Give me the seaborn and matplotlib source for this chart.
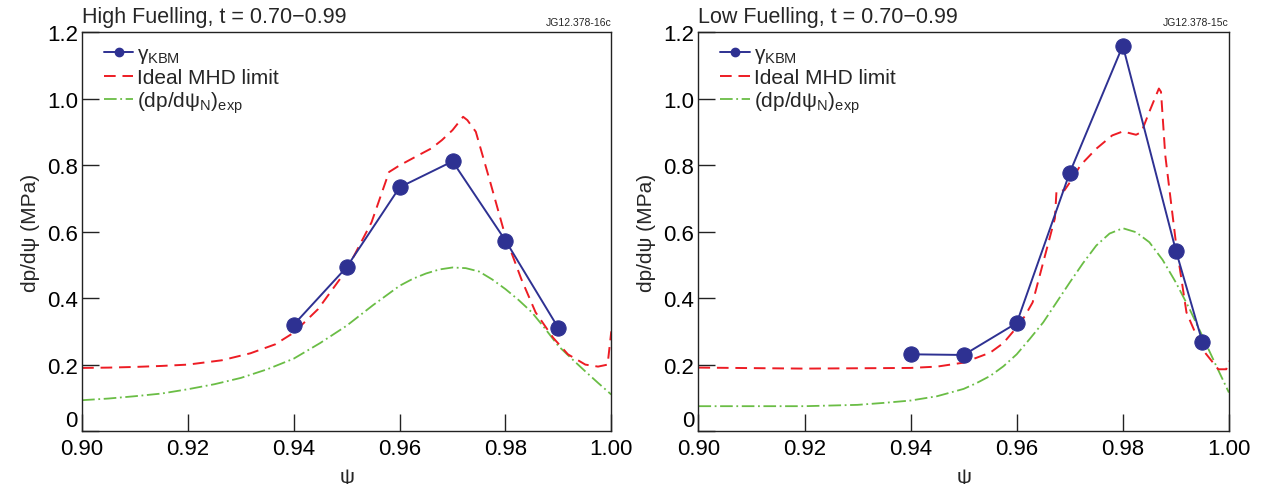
import numpy as np
import pandas as pd
import seaborn as sns
import matplotlib.pyplot as plt
from matplotlib.lines import Line2D

# ---- high fuelling ----
hi_kbm_psi = [0.94, 0.95, 0.96, 0.97, 0.98, 0.99]
hi_kbm_dp = [0.32, 0.493, 0.733, 0.811, 0.573, 0.31]

hi_mhd_psi = [0.900, 0.905, 0.910, 0.915, 0.920, 0.9264, 0.9318, 0.9365, 0.940, 0.9446,
              0.950, 0.9547, 0.958, 0.960, 0.9635, 0.966, 0.968, 0.970, 0.9715, 0.972,
              0.9728, 0.9744, 0.9771, 0.980, 0.983, 0.9857, 0.989, 0.9918, 0.9951, 0.9975,
              0.9993, 1.000]
hi_mhd_dp = [0.19, 0.191, 0.193, 0.196, 0.20, 0.213, 0.234, 0.261, 0.296, 0.367,
             0.485, 0.628, 0.779, 0.799, 0.829, 0.85, 0.875, 0.905, 0.935, 0.945,
             0.935, 0.90, 0.75, 0.585, 0.457, 0.357, 0.281, 0.231, 0.20, 0.194,
             0.20, 0.30]

hi_exp_psi = [0.900, 0.905, 0.910, 0.915, 0.920, 0.925, 0.930, 0.935, 0.940, 0.945,
              0.950, 0.955, 0.960, 0.9625, 0.965, 0.9675, 0.970, 0.9725, 0.975, 0.9775,
              0.980, 0.9825, 0.985, 0.9875, 0.990, 0.9925, 0.995, 0.9975, 1.000]
hi_exp_dp = [0.093, 0.098, 0.105, 0.113, 0.126, 0.141, 0.160, 0.186, 0.218, 0.265,
             0.317, 0.379, 0.437, 0.458, 0.474, 0.486, 0.492, 0.490, 0.480, 0.456,
             0.427, 0.394, 0.357, 0.308, 0.256, 0.218, 0.181, 0.145, 0.11]

# ---- low fuelling ----
lo_kbm_psi = [0.94, 0.95, 0.96, 0.97, 0.98, 0.99, 0.995]
lo_kbm_dp = [0.231, 0.229, 0.325, 0.777, 1.159, 0.543, 0.268]

lo_mhd_psi = [0.900, 0.920, 0.940, 0.945, 0.950, 0.955, 0.9575, 0.960, 0.9615, 0.963,
              0.966, 0.9672, 0.9675, 0.969, 0.9705, 0.972, 0.975, 0.978, 0.980, 0.9825,
              0.9835, 0.985, 0.9868, 0.9872, 0.988, 0.990, 0.992, 0.995, 0.998, 0.9995,
              1.000]
lo_mhd_dp = [0.191, 0.188, 0.19, 0.194, 0.206, 0.236, 0.265, 0.312, 0.345, 0.387,
             0.568, 0.64, 0.722, 0.724, 0.759, 0.799, 0.849, 0.889, 0.901, 0.891,
             0.899, 0.96, 1.03, 1.02, 0.83, 0.568, 0.357, 0.246, 0.186, 0.186,
             0.211]

lo_exp_psi = [0.900, 0.910, 0.920, 0.930, 0.935, 0.940, 0.945, 0.950, 0.9525, 0.955,
              0.9575, 0.960, 0.9625, 0.965, 0.9675, 0.970, 0.9725, 0.975, 0.9775, 0.980,
              0.9825, 0.985, 0.9875, 0.990, 0.9925, 0.995, 0.9975, 1.000]
lo_exp_dp = [0.075, 0.075, 0.075, 0.079, 0.085, 0.092, 0.105, 0.127, 0.145, 0.166,
             0.195, 0.231, 0.278, 0.327, 0.387, 0.447, 0.505, 0.558, 0.594, 0.61,
             0.598, 0.568, 0.515, 0.447, 0.37, 0.286, 0.2, 0.116]

xticks = [0.90, 0.92, 0.94, 0.96, 0.98, 1.00]
yticks = [0, 0.2, 0.4, 0.6, 0.8, 1.0, 1.2]
ytick_labels = ['0', '0.2', '0.4', '0.6', '0.8', '1.0', '1.2']

blue = '#2e3192'
red = '#ed1c24'
green = '#6abd45'

sns.set_style("ticks")
plt.rcParams['font.family'] = ['Liberation Sans', 'DejaVu Sans']
plt.rcParams['mathtext.fontset'] = 'custom'
plt.rcParams['mathtext.rm'] = 'Liberation Sans'
plt.rcParams['mathtext.it'] = 'Liberation Sans'

fig = plt.figure(figsize=(12.63, 4.85), dpi=100)
ax1 = fig.add_axes([0.065, 0.109, 0.419, 0.823])
ax2 = fig.add_axes([0.553, 0.109, 0.420, 0.823])

panels = [
    (ax1, hi_kbm_psi, hi_kbm_dp, hi_mhd_psi, hi_mhd_dp, hi_exp_psi, hi_exp_dp,
     'High Fuelling, t = 0.70\u22120.99', 'JG12.378-16c'),
    (ax2, lo_kbm_psi, lo_kbm_dp, lo_mhd_psi, lo_mhd_dp, lo_exp_psi, lo_exp_dp,
     'Low Fuelling, t = 0.70\u22120.99', 'JG12.378-15c'),
]

mhd_ls = (0, (6, 3.5))
exp_ls = (0, (7, 2, 1, 2))

for ax, kx, ky, mx, my, ex, ey, title, code in panels:
    sns.lineplot(x=ex, y=ey, ax=ax, color=green, lw=1.3, sort=False, linestyle=exp_ls)
    sns.lineplot(x=mx, y=my, ax=ax, color=red, lw=1.4, sort=False, linestyle=mhd_ls)
    sns.lineplot(x=kx, y=ky, ax=ax, color=blue, lw=1.4, sort=False,
                 marker='o', markersize=11, markeredgecolor=blue)
    ax.set_xlim(0.90, 1.00)
    ax.set_ylim(0, 1.2)
    ax.set_xticks(xticks)
    ax.set_xticklabels([f'{v:.2f}' for v in xticks], fontsize=16)
    ax.set_yticks(yticks)
    ax.set_yticklabels(ytick_labels, fontsize=16)
    ax.tick_params(direction='in', length=12, width=1, colors='#222222',
                   labelcolor='black')
    ax.tick_params(axis='x', pad=5)
    ax.tick_params(axis='y', pad=3)
    # the zero label sits just above the corner, as in the original
    ax.get_yticklabels()[0].set_va('bottom')
    for s in ax.spines.values():
        s.set_linewidth(1.0)
        s.set_color('#222222')
    ax.set_xlabel('\u03c8', fontsize=15, labelpad=6)
    ax.set_ylabel('dp/d\u03c8 (MPa)', fontsize=15, labelpad=5)
    ax.text(0.0, 1.012, title, transform=ax.transAxes, fontsize=15.5,
            ha='left', va='bottom')
    ax.text(1.0, 1.012, code, transform=ax.transAxes, fontsize=7.5,
            ha='right', va='bottom')

    handles = [
        Line2D([], [], color=blue, lw=1.4, marker='o', markersize=6),
        Line2D([], [], color=red, lw=1.4, linestyle=mhd_ls),
        Line2D([], [], color=green, lw=1.3, linestyle=exp_ls),
    ]
    labels = [r'$\gamma_{\mathrm{KBM}}$', 'Ideal MHD limit',
              r'(dp/d$\mathrm{\psi}_{\mathrm{N}}$)$_{\mathrm{exp}}$']
    ax.legend(handles, labels, loc='upper left', frameon=False, fontsize=15,
              handlelength=1.4, handletextpad=0.2, labelspacing=0.12,
              borderaxespad=0.2, bbox_to_anchor=(0.018, 1.0))

fig.savefig('out.png', dpi=100)
